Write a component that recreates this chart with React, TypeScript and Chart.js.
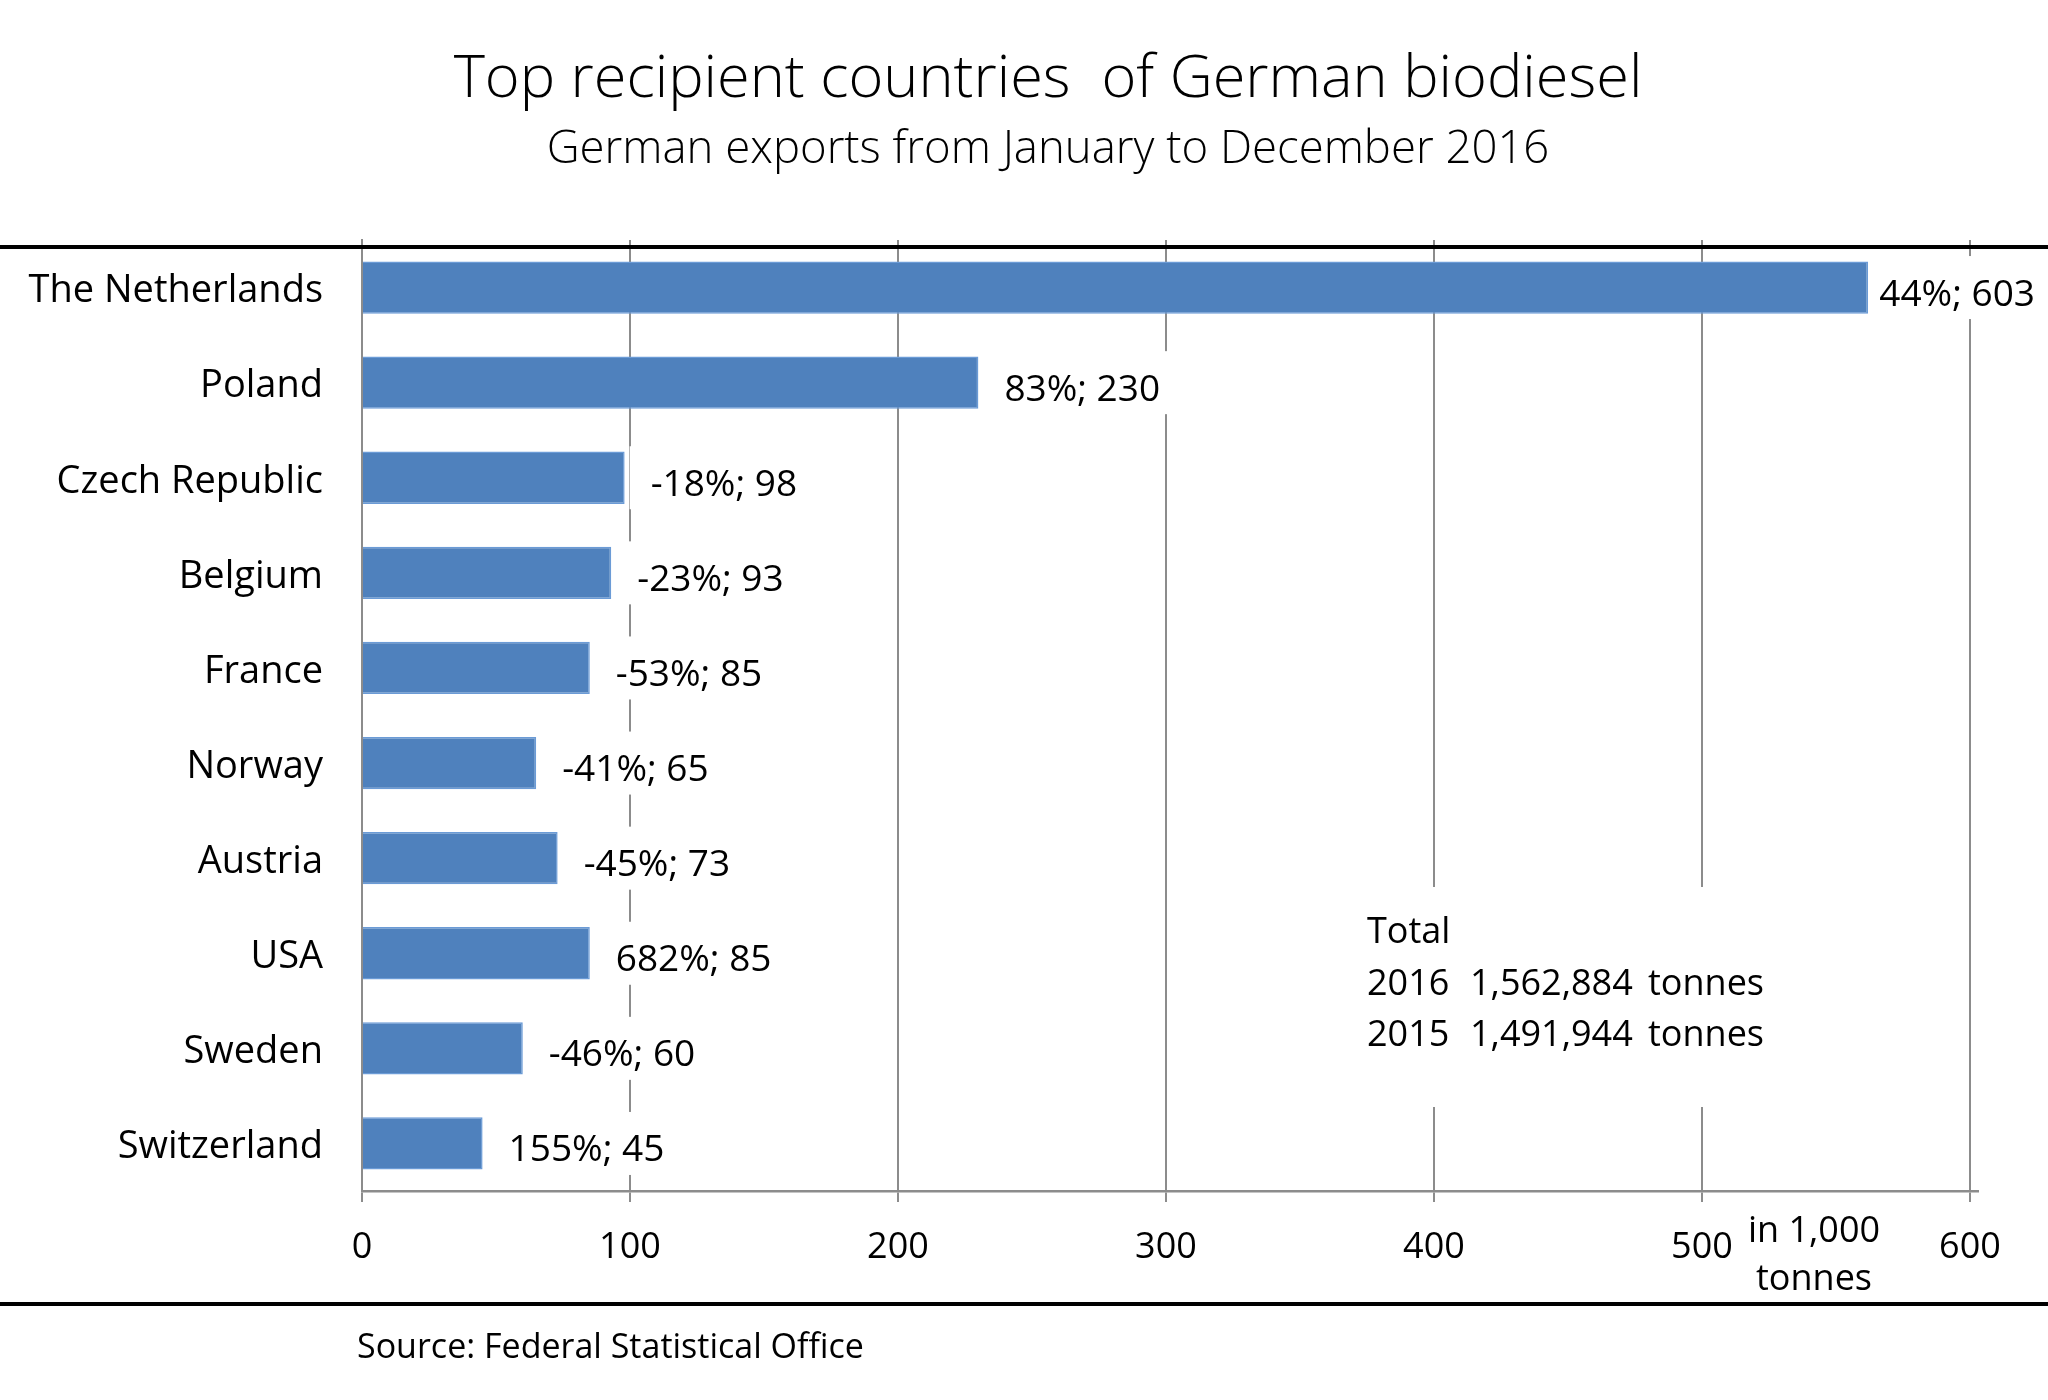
import React, { useEffect, useRef } from "react";
import { Chart, registerables } from "chart.js";

Chart.register(...registerables);

const FONT = "'Open Sans', 'Noto Sans', 'DejaVu Sans', sans-serif";

const titleText = "Top recipient countries  of German biodiesel";
const subtitleText = "German exports from January to December 2016";
const sourceText = "Source: Federal Statistical Office";
const unitLines = ["in 1,000", "tonnes"];

const categories = [
  "The Netherlands",
  "Poland",
  "Czech Republic",
  "Belgium",
  "France",
  "Norway",
  "Austria",
  "USA",
  "Sweden",
  "Switzerland",
];
// bar lengths as drawn in the picture (in 1,000 tonnes)
const barLengths = [562, 230, 98, 93, 85, 65, 73, 85, 60, 45];
// values printed in the labels (in 1,000 tonnes)
const exports2016 = [603, 230, 98, 93, 85, 65, 73, 85, 60, 45];
// change against 2015, in percent
const changeVs2015 = [44, 83, -18, -23, -53, -41, -45, 682, -46, 155];
const xTicks = [0, 100, 200, 300, 400, 500, 600];

const totalTitle = "Total";
const totalYears = ["2016", "2015"];
const totalValues = ["1,562,884", "1,491,944"];
const totalUnit = "tonnes";

const GRID = "#8c8c8c";

const decorPlugin = {
  id: "decor",
  beforeDraw(chart: any) {
    const { ctx, width, height } = chart;
    ctx.save();
    ctx.fillStyle = "#ffffff";
    ctx.fillRect(0, 0, width, height);
    ctx.restore();
  },
  afterDatasetsDraw(chart: any) {
    const { ctx, width } = chart;
    const meta = chart.getDatasetMeta(0);
    ctx.save();
    ctx.font = `37px ${FONT}`;
    ctx.textAlign = "left";
    ctx.textBaseline = "alphabetic";
    meta.data.forEach((bar: any, i: number) => {
      const text = `${changeVs2015[i]}%; ${exports2016[i]}`;
      const w = ctx.measureText(text).width;
      const x0 = bar.x + 5;
      const tx = Math.min(bar.x + 26, width - 13 - w);
      ctx.fillStyle = "#ffffff";
      ctx.fillRect(x0, bar.y - 31.5, tx - x0 + w + 8, 63);
      ctx.fillStyle = "#000000";
      ctx.fillText(text, tx, bar.y + 18);
    });

    // totals box
    ctx.fillStyle = "#ffffff";
    ctx.fillRect(1352, 887, 430, 220);
    ctx.fillStyle = "#000000";
    ctx.font = `36px ${FONT}`;
    ctx.fillText(totalTitle, 1367, 943);
    totalYears.forEach((yr, i) => {
      const by = 995 + i * 51;
      ctx.fillText(yr, 1367, by);
      ctx.fillText(totalValues[i], 1470, by);
      ctx.fillText(totalUnit, 1648, by);
    });
    ctx.restore();
  },
  afterDraw(chart: any) {
    const { ctx, width } = chart;
    ctx.save();
    // black rules
    ctx.fillStyle = "#000000";
    ctx.fillRect(0, 245, width, 4);
    ctx.fillRect(0, 1302, width, 4);

    ctx.fillStyle = "#000000";
    ctx.textAlign = "center";
    ctx.textBaseline = "alphabetic";
    ctx.font = `300 59.5px ${FONT}`;
    ctx.fillText(titleText, 1048, 97);
    ctx.font = `300 45.5px ${FONT}`;
    ctx.fillText(subtitleText, 1048, 163);

    ctx.font = `36px ${FONT}`;
    ctx.fillText(unitLines[0], 1814, 1242);
    ctx.fillText(unitLines[1], 1814, 1290);

    ctx.textAlign = "left";
    ctx.font = `34px ${FONT}`;
    ctx.fillText(sourceText, 357, 1358);
    ctx.restore();
  },
};

export default function App() {
  const canvasRef = useRef<HTMLCanvasElement | null>(null);

  useEffect(() => {
    document.body.style.margin = "0";
    const canvas = canvasRef.current;
    if (!canvas) return;
    const chart = new Chart(canvas, {
      type: "bar",
      data: {
        labels: categories,
        datasets: [
          {
            data: barLengths,
            backgroundColor: "#4f81bd",
            borderColor: "#6b9bd6",
            borderWidth: 1.5,
            barPercentage: 0.55,
            categoryPercentage: 1,
          },
        ],
      },
      options: {
        indexAxis: "y",
        animation: false,
        responsive: true,
        maintainAspectRatio: false,
        devicePixelRatio: 1,
        layout: { padding: { top: 240, right: 70, left: 0, bottom: 0 } },
        plugins: {
          legend: { display: false },
          tooltip: { enabled: false },
          title: { display: false },
        },
        scales: {
          x: {
            type: "linear",
            min: 0,
            max: 603,
            afterBuildTicks: (scale: any) => {
              scale.ticks = xTicks.map((v) => ({ value: v }));
            },
            afterFit: (scale: any) => {
              scale.height = 209;
            },
            ticks: {
              font: { family: FONT, size: 36 },
              color: "#000000",
              padding: 24,
              maxRotation: 0,
              autoSkip: false,
            },
            grid: {
              color: GRID,
              lineWidth: 2,
              tickLength: 11,
              drawTicks: true,
            },
            border: { display: true, color: GRID, width: 2.5 },
          },
          y: {
            type: "category",
            afterFit: (scale: any) => {
              scale.width = 362;
            },
            ticks: {
              font: { family: FONT, size: 38 },
              color: "#000000",
              padding: 39,
              labelOffset: 4,
              autoSkip: false,
            },
            grid: { display: false, drawTicks: false },
            border: { display: true, color: GRID, width: 2 },
          },
        },
      },
      plugins: [decorPlugin],
    } as any);
    return () => chart.destroy();
  }, []);

  return (
    <div style={{ width: 2048, height: 1400, position: "relative" }}>
      <canvas ref={canvasRef} />
    </div>
  );
}
